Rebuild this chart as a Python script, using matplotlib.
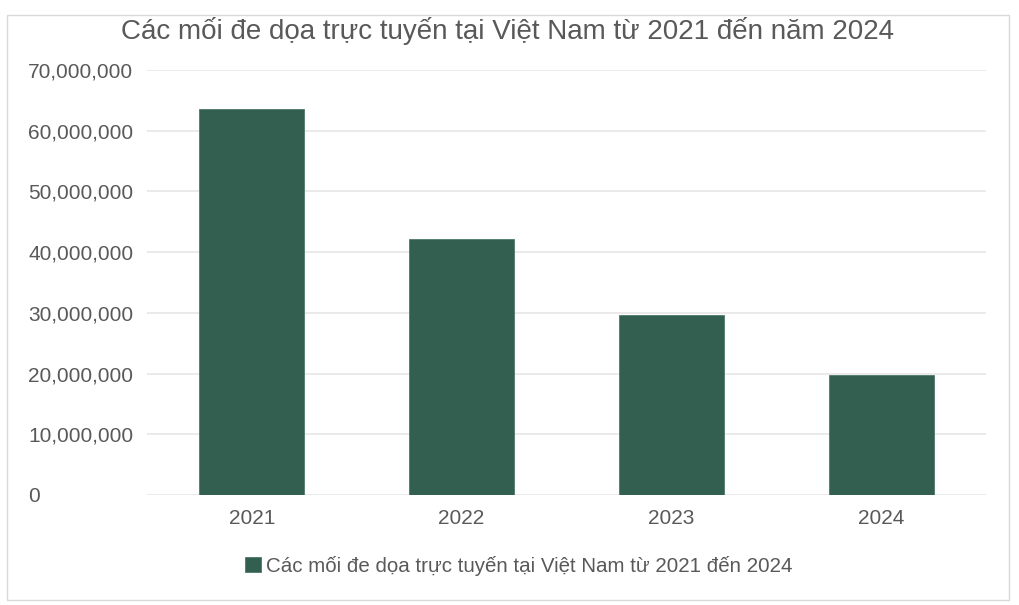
import matplotlib
matplotlib.use("Agg")
import matplotlib.pyplot as plt
from matplotlib.ticker import FuncFormatter
from matplotlib.patches import Rectangle

years = ["2021", "2022", "2023", "2024"]
threats = [63500000, 42100000, 29700000, 19800000]
series_name = "Các mối đe dọa trực tuyến tại Việt Nam từ 2021 đến 2024"
title = "Các mối đe dọa trực tuyến tại Việt Nam từ 2021 đến năm 2024"

plt.rcParams['font.family'] = ['Liberation Sans', 'DejaVu Sans']
text_col = '#595959'
bar_col = '#335F50'

fig = plt.figure(figsize=(10.2, 6.05), dpi=100)
fig.patches.append(Rectangle((7 / 1020, 5 / 605), 1002 / 1020, 585 / 605,
                             transform=fig.transFigure, fill=False,
                             edgecolor='#D9D9D9', linewidth=1))
ax = fig.add_axes([147 / 1020, 1 - 495 / 605, 839 / 1020, 425 / 605])

x = list(range(len(years)))
ax.bar(x, threats, width=0.5, color=bar_col, edgecolor='#4d7a6b',
       linewidth=0.6, label=series_name, zorder=3)

ax.set_xlim(-0.5, 3.5)
ax.set_ylim(0, 70000000)
ax.set_yticks(range(0, 70000001, 10000000))
ax.yaxis.set_major_formatter(FuncFormatter(lambda v, p: f"{int(v):,}"))
ax.set_xticks(x)
ax.set_xticklabels(years)
ax.grid(axis='y', color='#E6E6E6', linewidth=1.2, zorder=0)
for s in ax.spines.values():
    s.set_visible(False)
ax.tick_params(axis='both', length=0, labelsize=15, labelcolor=text_col)
ax.tick_params(axis='y', pad=85.5)
ax.tick_params(axis='x', pad=10)
for lab in ax.get_yticklabels():
    lab.set_horizontalalignment('left')

fig.text(508 / 1020, 1 - 31 / 605, title, ha='center', va='center',
         fontsize=20, color=text_col)

fig.legend(loc='center', bbox_to_anchor=(519 / 1020, 1 - 566 / 605), frameon=False,
           fontsize=14.8, labelcolor=text_col, handlelength=0.75, handleheight=0.75,
           handletextpad=0.25)

fig.savefig("out.png", dpi=100)
